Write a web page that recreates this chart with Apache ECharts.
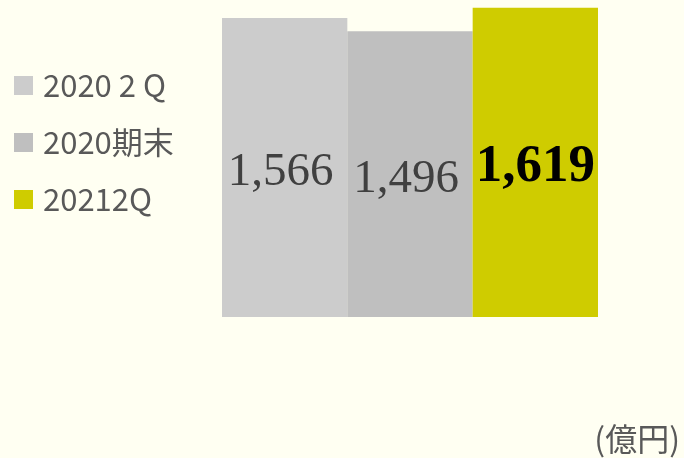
<!DOCTYPE html>
<html>
<head>
<meta charset="utf-8">
<script src="https://cdn.jsdelivr.net/npm/echarts@6/dist/echarts.min.js"></script>
<style>
  html, body { margin: 0; padding: 0; background: #fffff2; }
  #chart { width: 684px; height: 458px; }
</style>
</head>
<body>
<div id="chart"></div>
<script>
// values (億円)
const categories = ['']
const seriesNames = ['2020 2 Q', '2020期末', '20212Q']
const seriesValues = [1566, 1496, 1619]
const seriesColors = ['#cccccc', '#bfbfbf', '#cfcc00']

const labelStyles = [
  { color: '#404040', fontSize: 47, fontWeight: 'normal', offset: [-4, 5] },
  { color: '#404040', fontSize: 47, fontWeight: 'normal', offset: [-4, 5] },
  { color: '#000000', fontSize: 53, fontWeight: 'bold', offset: [0, 5] }
]

const series = seriesNames.map((name, i) => ({
  name: name,
  type: 'bar',
  barGap: 0,
  barCategoryGap: 0,
  itemStyle: { color: seriesColors[i] },
  label: {
    show: true,
    position: 'inside',
    offset: labelStyles[i].offset,
    fontFamily: '"Liberation Serif", serif',
    color: labelStyles[i].color,
    fontSize: labelStyles[i].fontSize,
    fontWeight: labelStyles[i].fontWeight,
    formatter: p => p.value.toLocaleString('en-US')
  },
  data: [seriesValues[i]]
}))

const option = {
  backgroundColor: '#fffff2',
  animation: false,
  grid: {
    left: 222,
    width: 376,
    top: 0,
    bottom: 141
  },
  legend: {
    orient: 'vertical',
    left: 9,
    top: 63,
    icon: 'rect',
    itemWidth: 19,
    itemHeight: 19,
    itemGap: 22,
    textStyle: {
      fontFamily: '"Noto Sans CJK JP", sans-serif',
      fontSize: 31,
      lineHeight: 35,
      color: '#595959',
      padding: [0, 0, 0, 5]
    },
    data: seriesNames
  },
  xAxis: {
    type: 'category',
    data: categories,
    axisLine: { show: false },
    axisTick: { show: false },
    axisLabel: { show: false }
  },
  yAxis: {
    type: 'value',
    min: 0,
    max: 1660,
    show: false,
    splitLine: { show: false }
  },
  graphic: [
    {
      type: 'text',
      right: 4,
      top: 423,
      style: {
        text: '(億円)',
        font: '32px "Noto Sans CJK JP"',
        fill: '#595959'
      }
    },
    {
      type: 'text',
      left: 0,
      top: -28,
      style: {
        text: '純資産',
        font: 'bold 28px "Noto Sans CJK JP"',
        fill: '#000000'
      }
    }
  ],
  series: series
}

const myChart = echarts.init(document.getElementById('chart'))
myChart.setOption(option)
</script>
</body>
</html>
